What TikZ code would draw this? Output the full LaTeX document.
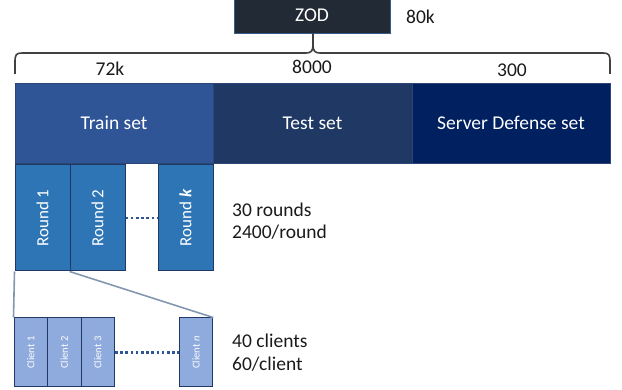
\documentclass[tikz,border=0pt]{standalone}
\usepackage{fontspec}
\setmainfont{Carlito}
\usetikzlibrary{positioning}
\definecolor{zodfill}{HTML}{222A35}
\definecolor{zodline}{HTML}{3B5A8C}
\definecolor{trainc}{HTML}{2F5597}
\definecolor{testc}{HTML}{203864}
\definecolor{serverc}{HTML}{002060}
\definecolor{barline}{HTML}{2B4677}
\definecolor{roundc}{HTML}{2E75B6}
\definecolor{clientc}{HTML}{8FAADC}
\definecolor{boxline}{HTML}{1F3864}
\definecolor{linkc}{HTML}{8497B0}
\definecolor{dotc}{HTML}{2F5597}
\definecolor{txt}{HTML}{1A1A1A}
\definecolor{bracec}{HTML}{404040}
\tikzset{
  mainfont/.style={font=\fontsize{19.5}{22}\selectfont},
  zodbox/.style={rectangle, fill=zodfill, draw=zodline, line width=0.6pt, inner sep=0pt, text=white, mainfont},
  barbox/.style={rectangle, draw=barline, line width=0.8pt, inner sep=0pt, text=white, mainfont, minimum height=80pt},
  roundbox/.style={rectangle, fill=roundc, draw=boxline, line width=1pt, inner sep=0pt, text=white,
    font=\fontsize{17}{20}\selectfont, minimum width=55pt, minimum height=106pt},
  clientbox/.style={rectangle, fill=clientc, draw=boxline, line width=1pt, inner sep=0pt, text=white,
    font=\fontsize{10.5}{12}\selectfont, minimum width=33.5pt, minimum height=69pt},
  plain/.style={text=txt, mainfont, inner sep=0pt},
  linkline/.style={draw=linkc, line width=1.6pt},
  dotline/.style={draw=dotc, line width=2.6pt, dash pattern=on 2.6pt off 2.6pt},
  bracepath/.style={draw=bracec, line width=1.6pt}
}
\begin{document}
\begin{tikzpicture}[x=1pt,y=-1pt]
\useasboundingbox (0,0) rectangle (622,390);
% top box
\node[zodbox, minimum width=156pt, minimum height=35pt] (zod) at (312,15.5) {ZOD};
\node[plain, anchor=west] (total) at (406,17) {80k};
% brace
\draw[bracepath] (15,74) -- (15,62) .. controls (15,55) and (16,53) .. (22,53) -- (306,53)
  .. controls (311,53) and (313,51) .. (313,45) -- (zod.south -| 313,0);
\draw[bracepath] (313,45) .. controls (313,51) and (315,53) .. (320,53) -- (603,53)
  .. controls (609,53) and (610,55) .. (610,62) -- (610,74);
\node[plain] (n72) at (110,69) {72k};
\node[plain] (n8000) at (312,67) {8000};
\node[plain] (n300) at (512,70) {300};
% bar
\node[barbox, fill=trainc, minimum width=198pt] (train) at (114,123) {Train set};
\node[barbox, fill=testc, minimum width=199pt] (test) at (312.5,123) {Test set};
\node[barbox, fill=serverc, minimum width=198pt] (server) at (511,123) {Server Defense set};
% rounds
\node[roundbox] (r1) at (42.5,218) {\rotatebox{90}{Round 1}};
\node[roundbox] (r2) at (97.5,218) {\rotatebox{90}{Round 2}};
\node[roundbox] (rk) at (185.5,218) {\rotatebox{90}{Round \textbf{\textit{k}}}};
\draw[dotline] (r2.east) -- (rk.west);
\node[plain, anchor=west] (rinfo1) at (232,210) {30 rounds};
\node[plain, anchor=west] (rinfo2) at (232,232) {2400/round};
% clients
\node[clientbox] (c1) at (30.75,352.5) {\rotatebox{90}{Client 1}};
\node[clientbox] (c2) at (64.25,352.5) {\rotatebox{90}{Client 2}};
\node[clientbox] (c3) at (97.75,352.5) {\rotatebox{90}{Client 3}};
\node[clientbox] (cn) at (196,352.5) {\rotatebox{90}{Client \textit{n}}};
\draw[dotline] (c3.east) -- (cn.west);
\node[plain, anchor=west] (cinfo1) at (232,341) {40 clients};
\node[plain, anchor=west] (cinfo2) at (232,364) {60/client};
% zoom lines
\draw[linkline] (r1.south west) -- (c1.north west);
\draw[linkline] (r2.south west) -- (cn.north east);
\end{tikzpicture}
\end{document}
